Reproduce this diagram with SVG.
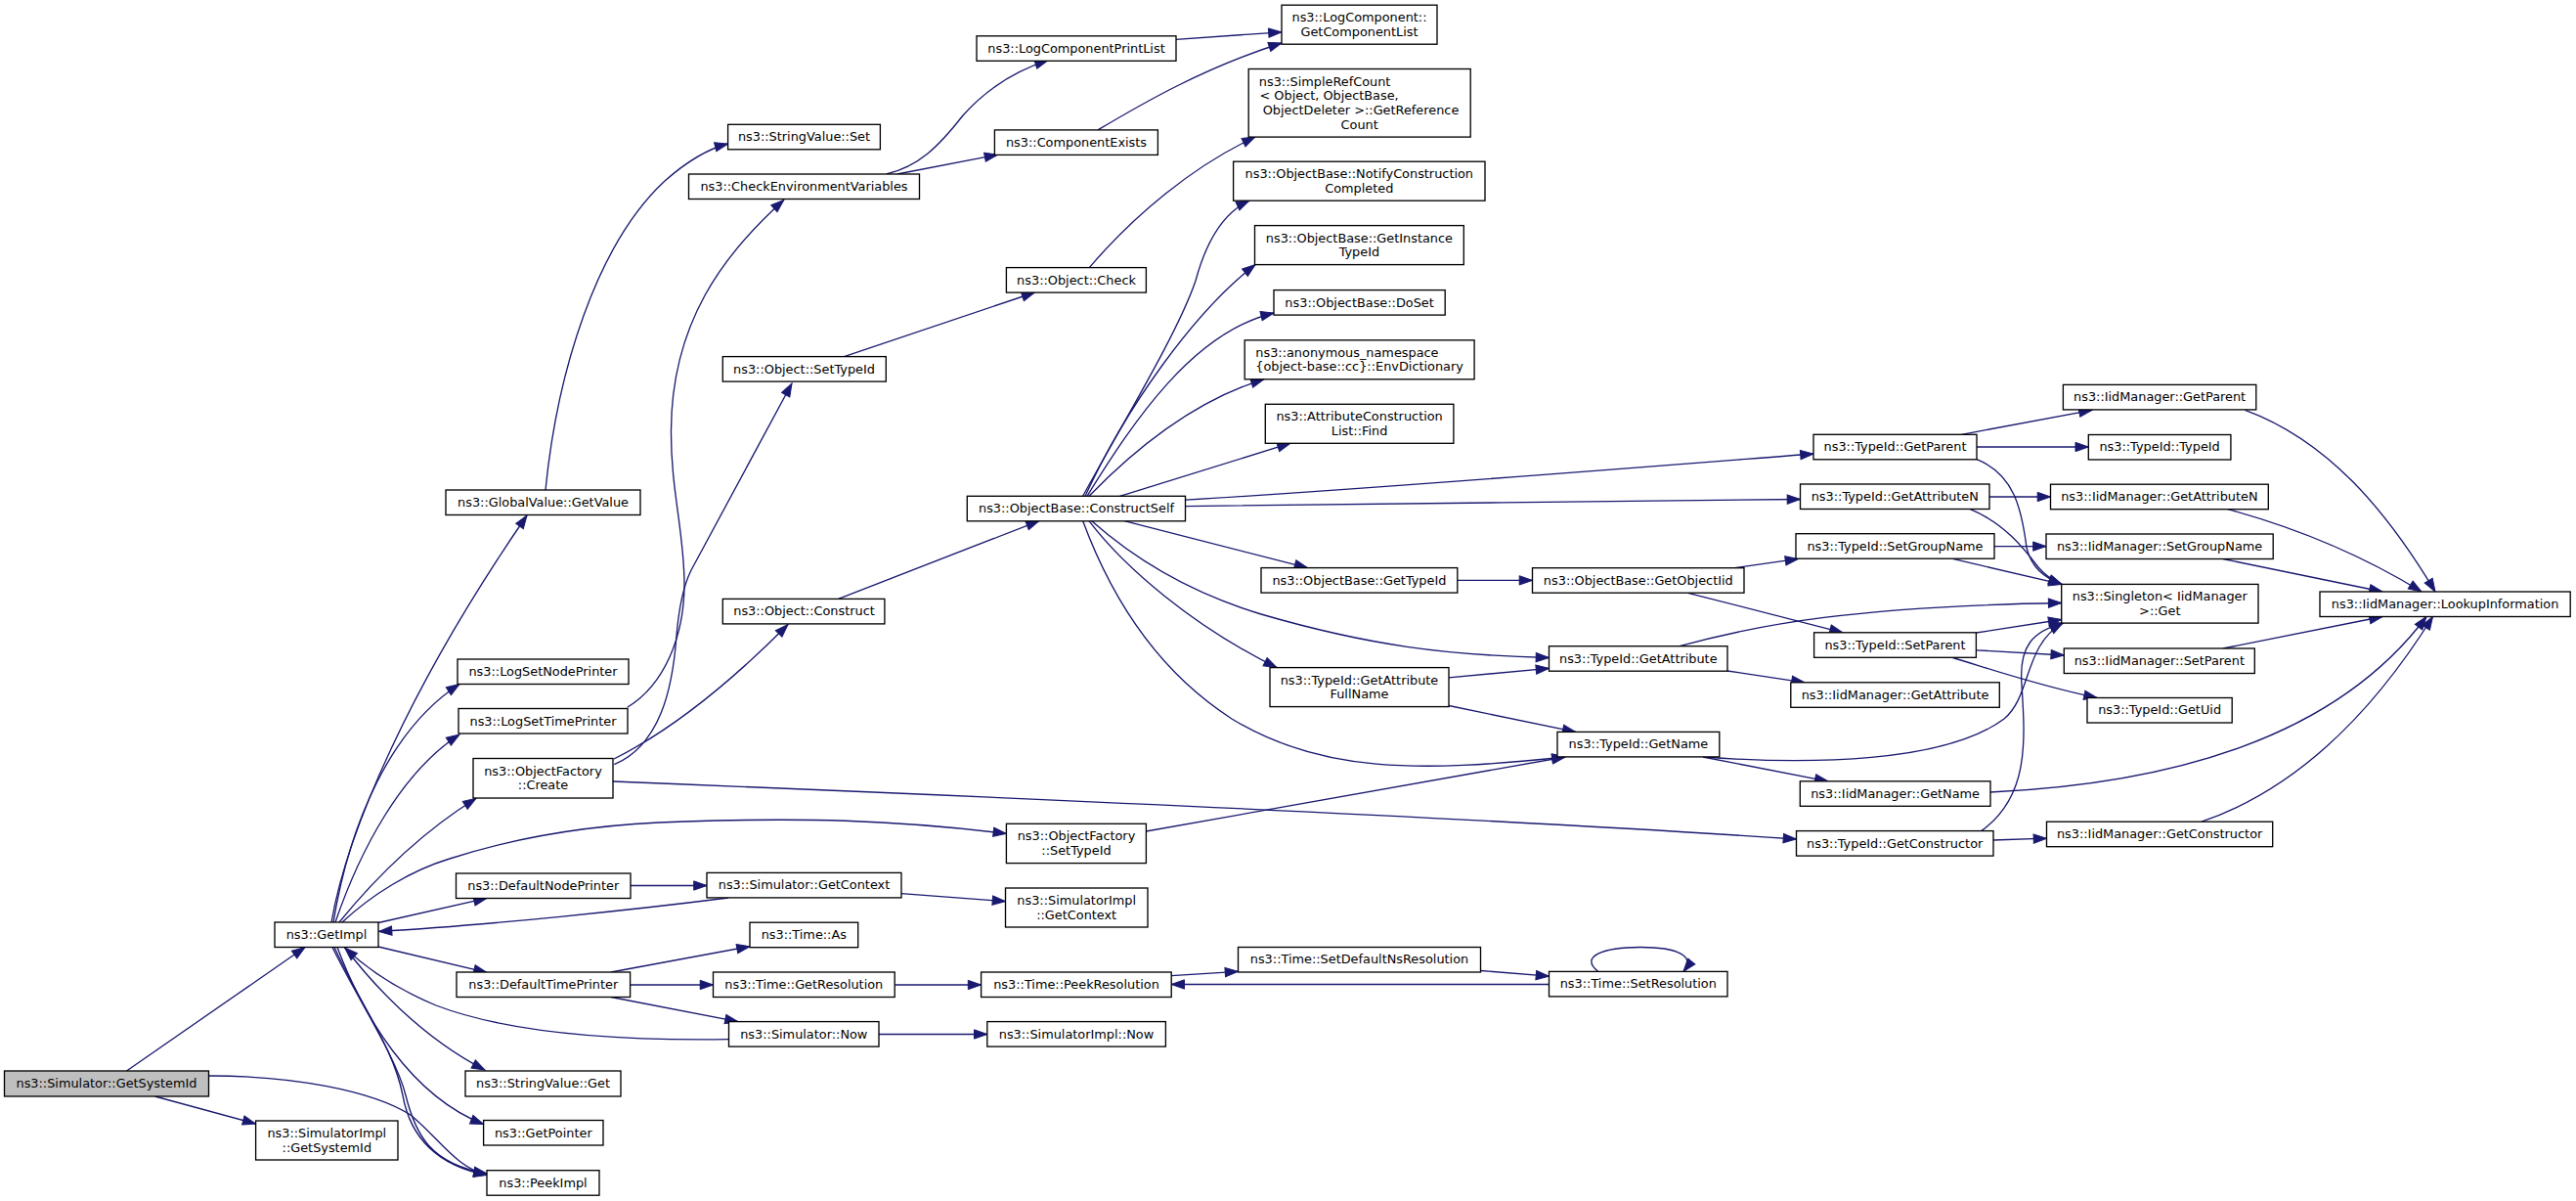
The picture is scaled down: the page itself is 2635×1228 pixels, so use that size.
<svg xmlns="http://www.w3.org/2000/svg" width="2635" height="1228" viewBox="0 0 2635 1228">
<style>
.node rect{fill:#ffffff;stroke:#000000;stroke-width:1.33}
.node.root rect{fill:#bfbfbf}
.node text{font-family:"DejaVu Sans","Liberation Sans",sans-serif;font-size:12.87px;text-anchor:middle;fill:#000000}
.node text.l{text-anchor:start}
.edges path{fill:none;stroke:#191970;stroke-width:1.33;marker-end:url(#arr)}
</style>
<defs>
<marker id="arr" markerUnits="userSpaceOnUse" markerWidth="16" markerHeight="12" refX="13.3" refY="4.67" orient="auto" overflow="visible">
<path d="M0,0 L13.3,4.67 L0,9.33 z" fill="#191970" stroke="#191970" stroke-width="1"/>
</marker>
</defs>
<rect x="0" y="0" width="2635" height="1228" fill="#ffffff"/>
<g class="edges">
<path d="M129.5,1095 L312,968.5"/>
<path d="M158.5,1121 L261.6,1149"/>
<path d="M213.4,1100 C300,1100 380,1115 420,1140 C450,1165 468,1195 498,1201"/>
<path d="M339,943 C355,850 420,700 539,527"/>
<path d="M341,943 C358,840 400,745 470,699.5"/>
<path d="M343,943 C368,870 410,790 470,751"/>
<path d="M347,943 C378,905 425,855 487,816.3"/>
<path d="M350,943 C380,915 420,890 460,878 C540,852 620,842 700,840 C820,836 910,838 1029.4,852.3"/>
<path d="M387,943.5 L498,918.4"/>
<path d="M387,968 L498,994.3"/>
<path d="M352.6,968.5 C380,1005 430,1060 496,1094"/>
<path d="M345,968.5 C372,1040 420,1120 494.6,1149.5"/>
<path d="M340,968.5 C365,1020 405,1080 415,1120 C425,1160 440,1190 498,1200"/>
<path d="M342,968.5 C370,1030 402,1070 412,1120 C420,1165 450,1192 498,1201.5"/>
<path d="M745,918 C650,930 500,946 387.5,952.4"/>
<path d="M745.5,1062.6 C650,1064 530,1060 446,1028 C410,1013 380,995 352.6,969"/>
<path d="M558,501 C570,380 610,250 680,185 C705,163 725,152 744.6,147"/>
<path d="M641.7,723.3 C680,700 700,650 700,597 C700,545 686,500 686.5,440 C687,330 740,260 801.8,204.4"/>
<path d="M628.3,781.7 C675,762 688,705 692,650 C695,615 700,597 707,583 L810,392"/>
<path d="M628,776 C680,750 740,705 806,638.5"/>
<path d="M627,799 C900,810 1500,835 1837.5,858"/>
<path d="M906.7,178 C940,170 960,150 985,118 C1010,90 1040,72 1072,61.7"/>
<path d="M917.8,178 L1020.5,158.2"/>
<path d="M863.4,364.6 L1058.5,299"/>
<path d="M857.6,612.4 L1063,532.6"/>
<path d="M645,905.5 L723,905.5"/>
<path d="M922,913.6 L1028.5,921.6"/>
<path d="M625,994 L767,967.7"/>
<path d="M644.6,1007 L729.5,1007"/>
<path d="M625,1019.5 L755,1044.6"/>
<path d="M915.2,1007 L1003.6,1007"/>
<path d="M899,1057.5 L1009.8,1057.5"/>
<path d="M1203,40.3 L1311,32.8"/>
<path d="M1123,132.9 C1170,105 1230,70 1311,44"/>
<path d="M1114.3,273.6 C1160,220 1220,170 1284,140"/>
<path d="M1107.6,507.3 C1150,430 1205,340 1223,287 C1233,250 1250,218 1278,205.1"/>
<path d="M1110,507.3 C1150,420 1220,320 1284,270.6"/>
<path d="M1112,507.3 C1160,430 1220,340 1303,320"/>
<path d="M1114,507.3 C1160,460 1220,410 1293,387.8"/>
<path d="M1145.5,507.3 L1320,453.2"/>
<path d="M1212.5,511.2 C1400,500 1650,480 1855,464"/>
<path d="M1212.5,517.6 C1400,516 1650,512 1841.5,510.5"/>
<path d="M1150,532.6 L1337.5,580.6"/>
<path d="M1116.5,532.6 C1170,580 1230,610 1290,628 C1400,660 1480,670 1584.5,672.5"/>
<path d="M1114,532.6 C1150,580 1220,640 1306,682.6"/>
<path d="M1107.6,532.6 C1140,620 1190,690 1260,735 C1350,790 1450,790 1601,774"/>
<path d="M1172.3,850 L1601,774"/>
<path d="M1198.2,997.7 L1266.5,993.3"/>
<path d="M1584.5,1006.5 L1198.2,1006.5"/>
<path d="M1490.8,593.4 L1567.5,593.4"/>
<path d="M1482,692.9 L1584.5,683.3"/>
<path d="M1482,721.5 L1611.8,748.4"/>
<path d="M1514.6,992.5 L1584.5,998.2"/>
<path d="M1774.4,580.7 L1839.5,571.4"/>
<path d="M1726.7,606.3 L1885,646.8"/>
<path d="M1767,686 L1846,697.8"/>
<path d="M1718,660.7 C1800,638 1900,620 2108.7,616.5"/>
<path d="M1742,774 L1869.8,798.8"/>
<path d="M1742.8,774 C1850,782 1990,780 2050,735 C2078,712 2070,660 2110,637"/>
<path d="M1634.8,993.4 C1615,978 1640,968.5 1678,968.5 C1715,968.5 1735,977 1722,993.4"/>
<path d="M2006.4,444.3 L2140,419.3"/>
<path d="M2022,457 L2136.3,457"/>
<path d="M2022,469.7 C2060,485 2068,520 2073,560 C2078,580 2090,590 2109,597.4"/>
<path d="M2035,508 L2097.5,508"/>
<path d="M2015.4,520.6 C2050,535 2070,560 2085,580 C2092,588 2100,594 2109,597.4"/>
<path d="M2040,558.6 L2093,558.6"/>
<path d="M1997.5,571.4 L2109,597.4"/>
<path d="M2021.4,647 L2108.7,633.5"/>
<path d="M2021.4,664.8 L2111.3,670"/>
<path d="M1997.5,672.5 C2030,682 2080,700 2145,713.5"/>
<path d="M2036,810 C2250,800 2400,740 2482,630.5"/>
<path d="M2026.7,849.6 C2075,815 2072,760 2068,700 C2065,660 2080,645 2110.7,637.1"/>
<path d="M2039,859 L2093.5,857.2"/>
<path d="M2296.6,419.3 C2380,450 2440,520 2491,605"/>
<path d="M2278.7,520.6 C2350,540 2420,570 2477,605"/>
<path d="M2274,571.5 L2437,605"/>
<path d="M2274,663 L2437,630.5"/>
<path d="M2252,840.2 C2340,810 2420,740 2488.5,630.5"/>
</g>
<g id="n1" class="node root"><rect x="4.5" y="1095" width="209" height="26"/><text x="109" y="1112.2">ns3::Simulator::GetSystemId</text></g>
<g id="n2" class="node"><rect x="281" y="943" width="106" height="25.5"/><text x="334" y="960">ns3::GetImpl</text></g>
<g id="n3" class="node"><rect x="261.6" y="1146" width="145.4" height="40"/><text x="334.3" y="1162.9">ns3::SimulatorImpl</text><text x="334.3" y="1177.5">::GetSystemId</text></g>
<g id="n4" class="node"><rect x="456" y="501" width="199" height="25.5"/><text x="555.5" y="517.9">ns3::GlobalValue::GetValue</text></g>
<g id="n5" class="node"><rect x="468" y="674" width="175" height="25.5"/><text x="555.5" y="690.9">ns3::LogSetNodePrinter</text></g>
<g id="n6" class="node"><rect x="469" y="724.5" width="173" height="25.5"/><text x="555.5" y="741.5">ns3::LogSetTimePrinter</text></g>
<g id="n7" class="node"><rect x="484" y="775.5" width="143" height="40.5"/><text x="555.5" y="792.6">ns3::ObjectFactory</text><text x="555.5" y="807.3">::Create</text></g>
<g id="n8" class="node"><rect x="466.5" y="893" width="178.5" height="25.5"/><text x="555.75" y="909.9">ns3::DefaultNodePrinter</text></g>
<g id="n9" class="node"><rect x="467" y="994" width="177.6" height="25.5"/><text x="555.8" y="1011">ns3::DefaultTimePrinter</text></g>
<g id="n10" class="node"><rect x="476" y="1095" width="159" height="26"/><text x="555.5" y="1112.2">ns3::StringValue::Get</text></g>
<g id="n11" class="node"><rect x="494.6" y="1145.5" width="122.4" height="25.5"/><text x="555.8" y="1162.5">ns3::GetPointer</text></g>
<g id="n12" class="node"><rect x="498" y="1196.7" width="115" height="25.5"/><text x="555.5" y="1213.6">ns3::PeekImpl</text></g>
<g id="n13" class="node"><rect x="744.6" y="127.3" width="155.8" height="25.5"/><text x="822.5" y="144.2">ns3::StringValue::Set</text></g>
<g id="n14" class="node"><rect x="704.5" y="178" width="236" height="25.5"/><text x="822.5" y="194.9">ns3::CheckEnvironmentVariables</text></g>
<g id="n15" class="node"><rect x="739.3" y="364.6" width="167" height="25.5"/><text x="822.5" y="381.5">ns3::Object::SetTypeId</text></g>
<g id="n16" class="node"><rect x="739.3" y="612.4" width="165.6" height="25.5"/><text x="822.5" y="629.3">ns3::Object::Construct</text></g>
<g id="n17" class="node"><rect x="723" y="892.4" width="199" height="25.5"/><text x="822.5" y="909.3">ns3::Simulator::GetContext</text></g>
<g id="n18" class="node"><rect x="767" y="943.2" width="110.7" height="25.5"/><text x="822.3" y="960.1">ns3::Time::As</text></g>
<g id="n19" class="node"><rect x="729.5" y="994" width="185.7" height="25.5"/><text x="822.3" y="1011">ns3::Time::GetResolution</text></g>
<g id="n20" class="node"><rect x="745.5" y="1044.6" width="153.5" height="25.5"/><text x="822.3" y="1061.5">ns3::Simulator::Now</text></g>
<g id="n21" class="node"><rect x="999" y="36.8" width="204" height="25.5"/><text x="1101" y="53.7">ns3::LogComponentPrintList</text></g>
<g id="n22" class="node"><rect x="1017.4" y="132.9" width="167" height="25.5"/><text x="1101" y="149.8">ns3::ComponentExists</text></g>
<g id="n23" class="node"><rect x="1029.4" y="273.6" width="143" height="25.5"/><text x="1101" y="290.5">ns3::Object::Check</text></g>
<g id="n24" class="node"><rect x="989.3" y="507.3" width="223.2" height="25.5"/><text x="1101" y="524.2">ns3::ObjectBase::ConstructSelf</text></g>
<g id="n25" class="node"><rect x="1029.4" y="842.3" width="143" height="40.3"/><text x="1101" y="859.3">ns3::ObjectFactory</text><text x="1101" y="874">::SetTypeId</text></g>
<g id="n26" class="node"><rect x="1028.5" y="908" width="145.5" height="40"/><text x="1101.2" y="924.9">ns3::SimulatorImpl</text><text x="1101.2" y="939.5">::GetContext</text></g>
<g id="n27" class="node"><rect x="1003.6" y="994" width="194.6" height="25.5"/><text x="1101" y="1011">ns3::Time::PeekResolution</text></g>
<g id="n28" class="node"><rect x="1009.8" y="1044.6" width="182.6" height="25.5"/><text x="1101" y="1061.5">ns3::SimulatorImpl::Now</text></g>
<g id="n29" class="node"><rect x="1311" y="5.2" width="159" height="40"/><text x="1390.5" y="22.1">ns3::LogComponent::</text><text x="1390.5" y="36.7">GetComponentList</text></g>
<g id="n30" class="node"><rect x="1277.2" y="70.5" width="227" height="69.6"/><text class="l" x="1287.8" y="87.5">ns3::SimpleRefCount</text><text class="l" x="1288.5" y="102.2">&lt; Object, ObjectBase,</text><text x="1392" y="116.8"> ObjectDeleter &gt;::GetReference</text><text x="1390.7" y="131.5">Count</text></g>
<g id="n31" class="node"><rect x="1261.6" y="165.2" width="257.4" height="40"/><text x="1390.3" y="182.1">ns3::ObjectBase::NotifyConstruction</text><text x="1390.3" y="196.7">Completed</text></g>
<g id="n32" class="node"><rect x="1283.5" y="230.6" width="213.8" height="40"/><text x="1390.4" y="247.5">ns3::ObjectBase::GetInstance</text><text x="1390.4" y="262.1">TypeId</text></g>
<g id="n33" class="node"><rect x="1303" y="296.6" width="175.2" height="25.5"/><text x="1390.6" y="313.5">ns3::ObjectBase::DoSet</text></g>
<g id="n34" class="node"><rect x="1273.2" y="347.8" width="234.9" height="40"/><text class="l" x="1284.3" y="364.7">ns3::anonymous_namespace</text><text x="1390.6" y="379.3">{object-base::cc}::EnvDictionary</text></g>
<g id="n35" class="node"><rect x="1294.3" y="413.3" width="192.6" height="40"/><text x="1390.6" y="430.2">ns3::AttributeConstruction</text><text x="1390.6" y="444.8">List::Find</text></g>
<g id="n36" class="node"><rect x="1290" y="580.6" width="200.8" height="25.5"/><text x="1390.4" y="597.5">ns3::ObjectBase::GetTypeId</text></g>
<g id="n37" class="node"><rect x="1299" y="682.6" width="183" height="40"/><text x="1390.5" y="699.5">ns3::TypeId::GetAttribute</text><text x="1390.5" y="714.1">FullName</text></g>
<g id="n38" class="node"><rect x="1266.5" y="968.5" width="248" height="25.5"/><text x="1390.5" y="985.4">ns3::Time::SetDefaultNsResolution</text></g>
<g id="n39" class="node"><rect x="1567.5" y="580.7" width="216.5" height="25.5"/><text x="1675.8" y="597.6">ns3::ObjectBase::GetObjectIid</text></g>
<g id="n40" class="node"><rect x="1584.5" y="660.7" width="182.5" height="25.5"/><text x="1675.8" y="677.6">ns3::TypeId::GetAttribute</text></g>
<g id="n41" class="node"><rect x="1593" y="748.4" width="165.8" height="25.5"/><text x="1675.9" y="765.3">ns3::TypeId::GetName</text></g>
<g id="n42" class="node"><rect x="1584.5" y="993.4" width="182.5" height="25.5"/><text x="1675.8" y="1010.3">ns3::Time::SetResolution</text></g>
<g id="n43" class="node"><rect x="1855" y="444.3" width="167" height="25.5"/><text x="1938.5" y="461.2">ns3::TypeId::GetParent</text></g>
<g id="n44" class="node"><rect x="1841.5" y="495" width="193.5" height="25.5"/><text x="1938.3" y="511.9">ns3::TypeId::GetAttributeN</text></g>
<g id="n45" class="node"><rect x="1837" y="545.7" width="203" height="25.5"/><text x="1938.5" y="562.6">ns3::TypeId::SetGroupName</text></g>
<g id="n46" class="node"><rect x="1855.6" y="646.8" width="165.8" height="25.5"/><text x="1938.5" y="663.7">ns3::TypeId::SetParent</text></g>
<g id="n47" class="node"><rect x="1831.8" y="697.8" width="213.5" height="25.5"/><text x="1938.5" y="714.7">ns3::IidManager::GetAttribute</text></g>
<g id="n48" class="node"><rect x="1841.3" y="798.8" width="194.7" height="25.5"/><text x="1938.6" y="815.7">ns3::IidManager::GetName</text></g>
<g id="n49" class="node"><rect x="1837.5" y="849.6" width="201.5" height="25.5"/><text x="1938.2" y="866.5">ns3::TypeId::GetConstructor</text></g>
<g id="n50" class="node"><rect x="2110.4" y="393.4" width="197.4" height="25.5"/><text x="2209.1" y="410.3">ns3::IidManager::GetParent</text></g>
<g id="n51" class="node"><rect x="2136.3" y="444.5" width="145.6" height="25.5"/><text x="2209.1" y="461.4">ns3::TypeId::TypeId</text></g>
<g id="n52" class="node"><rect x="2097.5" y="495.2" width="222.8" height="25.5"/><text x="2208.9" y="512.1">ns3::IidManager::GetAttributeN</text></g>
<g id="n53" class="node"><rect x="2093" y="546" width="232.2" height="25.5"/><text x="2209.1" y="562.9">ns3::IidManager::SetGroupName</text></g>
<g id="n54" class="node"><rect x="2108.7" y="597.4" width="201.3" height="39.7"/><text x="2209.3" y="614.1">ns3::Singleton&lt; IidManager</text><text x="2209.3" y="628.8">&gt;::Get</text></g>
<g id="n55" class="node"><rect x="2111.3" y="663" width="195" height="25.5"/><text x="2208.8" y="679.9">ns3::IidManager::SetParent</text></g>
<g id="n56" class="node"><rect x="2135" y="713.5" width="148.2" height="25.5"/><text x="2209.1" y="730.4">ns3::TypeId::GetUid</text></g>
<g id="n57" class="node"><rect x="2093.5" y="840.2" width="231.2" height="25.5"/><text x="2209.1" y="857.1">ns3::IidManager::GetConstructor</text></g>
<g id="n58" class="node"><rect x="2373" y="605" width="256.2" height="25.5"/><text x="2501.1" y="621.9">ns3::IidManager::LookupInformation</text></g>
</svg>
